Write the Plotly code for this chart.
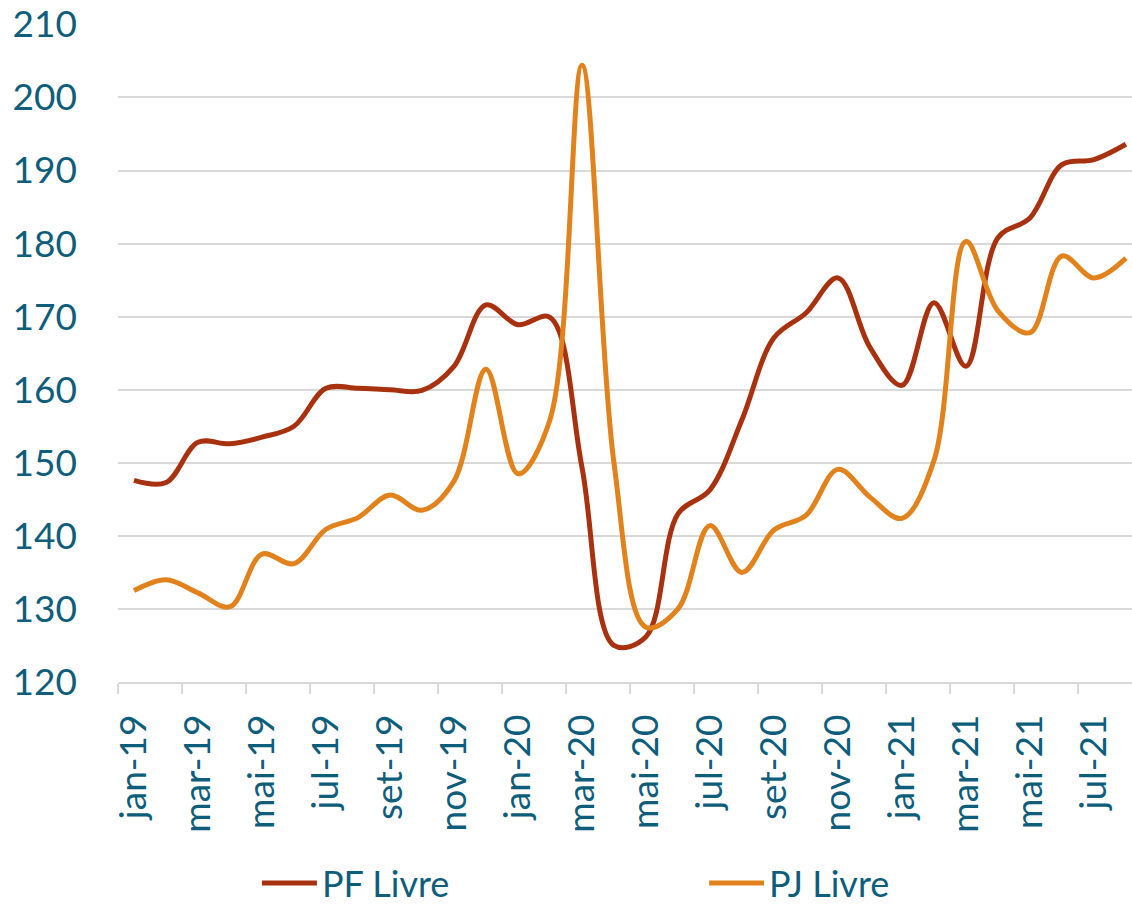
import plotly.graph_objects as go

months = ["jan-19","fev-19","mar-19","abr-19","mai-19","jun-19","jul-19","ago-19","set-19","out-19","nov-19","dez-19",
          "jan-20","fev-20","mar-20","abr-20","mai-20","jun-20","jul-20","ago-20","set-20","out-20","nov-20","dez-20",
          "jan-21","fev-21","mar-21","abr-21","mai-21","jun-21","jul-21","ago-21"]

pf_livre = [147.6, 147.3, 152.8, 152.6, 153.5, 155.0, 160.2, 160.2, 160.0, 159.9, 163.2, 171.6,
            168.9, 169.9, 149.4, 125.0, 126.2, 143.0, 146.3, 155.9, 167.1, 170.5, 175.3, 165.8,
            160.6, 171.9, 163.2, 180.8, 183.5, 190.8, 191.5, 193.6]

pj_livre = [132.5, 134.0, 132.2, 130.3, 137.5, 136.2, 140.9, 142.5, 145.6, 143.5, 147.5, 162.8,
            148.5, 155.9, 204.4, 150.0, 127.5, 130.0, 141.4, 135.0, 140.8, 142.8, 149.1, 145.3,
            142.4, 150.3, 180.3, 170.8, 167.8, 178.3, 175.3, 178.0]

text_color = "#0E5E7B"
grid_color = "#D9D9D9"
font_family = "Lato, 'Open Sans', sans-serif"

fig = go.Figure()
fig.add_trace(go.Scatter(x=months, y=pf_livre, name="PF Livre", mode="lines", legend="legend",
                         line=dict(color="#A8320F", width=5, shape="spline", smoothing=1.0)))
fig.add_trace(go.Scatter(x=months, y=pj_livre, name="PJ Livre", mode="lines", legend="legend2",
                         line=dict(color="#E1821C", width=5, shape="spline", smoothing=1.0)))

leg_common = dict(orientation="h", xanchor="left", y=-0.3055, yanchor="middle",
                  font=dict(size=36, color=text_color), itemwidth=55,
                  borderwidth=0, bgcolor="rgba(0,0,0,0)")

fig.update_layout(
    width=1132, height=907,
    margin=dict(l=118, r=0, t=24, b=225, autoexpand=False),
    paper_bgcolor="white", plot_bgcolor="white",
    font=dict(family=font_family, color=text_color, size=37),
    showlegend=True,
    legend=dict(x=0.137, **leg_common),
    legend2=dict(x=0.578, **leg_common),
    xaxis=dict(type="category", range=[-0.5, 31.19], dtick=2, tickson="boundaries",
               ticks="outside", ticklen=10, tickcolor=grid_color, tickwidth=1.5,
               tickangle=-90, showgrid=False, showline=True, linecolor=grid_color, linewidth=1.5,
               ticklabelstandoff=16, automargin=False,
               tickfont=dict(size=37, color=text_color)),
    yaxis=dict(range=[120, 210.05], tick0=120, dtick=10, showgrid=True, gridcolor=grid_color, gridwidth=1.5,
               zeroline=False, showline=False, ticks="", ticklabelstandoff=40, automargin=False,
               tickfont=dict(size=37, color=text_color)),
)

fig.write_html("out.html", config={"displayModeBar": False},
               post_script="document.body.style.margin='0';document.body.style.overflow='hidden';")
